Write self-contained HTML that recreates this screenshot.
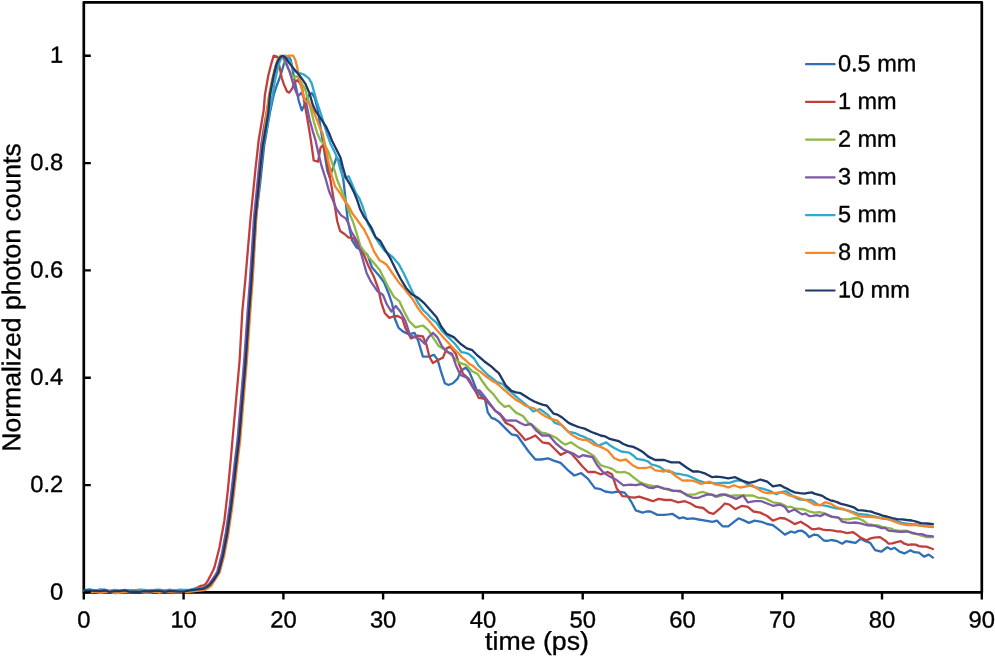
<!DOCTYPE html><html><head><meta charset="utf-8"><title>chart</title><style>html,body{margin:0;padding:0;background:#fff}svg{display:block}text{font-family:"Liberation Sans",Arial,sans-serif;fill:#000;stroke:#000;stroke-width:0.35px}</style></head><body>
<svg width="995" height="656" viewBox="0 0 995 656">
<rect width="995" height="656" fill="#fff"/>
<rect x="83.8" y="2.3" width="898.0" height="590.1" fill="none" stroke="#000" stroke-width="2.7" stroke-linejoin="round"/>
<path d="M84.8,591.3 L89.8,589.5 L94.8,591.0 L99.8,589.7 L104.8,589.7 L109.7,591.0 L114.7,590.7 L119.7,591.2 L124.7,590.0 L129.7,590.6 L134.7,590.7 L139.7,590.0 L144.7,591.2 L149.7,590.4 L154.7,591.0 L159.6,590.1 L164.6,590.8 L169.6,591.2 L174.6,590.4 L179.6,590.3 L184.6,590.8 L190.6,590.4 L196.2,589.6 L204.2,588.7 L207.4,587.0 L210.6,584.6 L213.9,580.5 L217.1,575.6 L219.2,572.2 L223.8,554.6 L227.9,532.7 L231.8,505.9 L234.7,481.5 L237.2,459.5 L239.6,440.0 L246.3,360.5 L249.7,311.7 L252.1,280.0 L256.1,217.6 L260.4,181.0 L264.3,144.4 L265.2,140.0 L269.8,113.2 L273.7,95.0 L276.0,87.7 L279.4,78.5 L281.7,71.7 L283.6,64.8 L285.4,60.2 L288.6,56.4 L290.8,60.2 L292.3,67.9 L293.9,77.0 L295.7,85.7 L298.8,101.0 L301.8,110.4 L304.1,105.5 L307.9,96.4 L311.7,93.0 L314.8,97.9 L317.8,110.1 L320.6,128.0 L322.9,142.2 L325.2,157.4 L327.4,171.2 L329.7,177.3 L332.8,168.1 L336.6,157.4 L338.9,160.5 L341.2,169.6 L343.4,180.3 L345.0,194.0 L346.5,209.3 L348.0,221.5 L349.2,227.3 L351.9,240.1 L356.5,247.4 L362.0,250.2 L367.5,254.8 L372.1,267.6 L378.5,274.9 L384.0,282.2 L388.5,293.2 L392.2,304.1 L394.9,318.8 L398.6,327.9 L403.2,331.6 L408.7,334.3 L414.6,332.9 L418.3,341.1 L422.9,356.6 L429.3,356.6 L433.8,354.8 L437.5,359.4 L441.2,372.2 L444.8,383.2 L448.5,385.0 L453.0,383.2 L457.6,378.6 L461.3,370.4 L465.9,367.6 L469.5,372.2 L473.2,381.3 L476.8,390.5 L480.5,395.1 L485.1,399.6 L487.8,412.4 L491.5,417.9 L495.2,419.2 L498.8,421.6 L505.7,428.6 L511.4,434.3 L517.2,435.5 L522.9,443.5 L528.6,451.5 L535.4,459.5 L541.2,459.5 L548.0,458.3 L553.7,460.6 L560.6,462.9 L567.5,469.8 L574.3,475.5 L581.2,473.2 L588.0,478.9 L594.9,488.1 L600.6,489.2 L605.2,491.5 L612.0,492.6 L617.8,491.5 L624.6,492.6 L629.2,498.4 L632.5,504.0 L635.7,510.3 L642.6,512.6 L646.5,511.5 L650.6,511.5 L657.4,514.9 L664.3,514.9 L668.6,514.4 L672.3,513.8 L679.2,518.3 L683.0,517.4 L687.2,518.8 L692.9,518.3 L698.6,519.5 L705.5,520.6 L712.3,521.8 L716.9,520.6 L722.6,526.3 L728.3,526.3 L734.0,521.8 L738.6,518.3 L744.3,520.6 L748.9,522.9 L754.6,520.6 L761.5,521.8 L767.2,524.0 L772.9,525.2 L780.0,530.7 L784.9,534.6 L791.0,531.5 L794.6,532.7 L798.4,530.9 L802.0,530.7 L805.8,533.3 L809.3,537.1 L814.1,534.6 L817.8,535.1 L823.9,540.5 L827.2,540.9 L831.2,540.0 L837.3,541.2 L842.2,543.7 L845.9,541.2 L850.7,542.0 L855.6,542.9 L860.5,538.8 L865.4,541.2 L870.2,542.9 L875.1,550.2 L881.2,551.7 L887.3,547.3 L891.0,549.3 L894.6,547.8 L899.5,551.7 L904.4,553.4 L910.5,550.2 L914.1,552.2 L919.0,552.7 L923.9,556.6 L928.8,554.6 L932.9,557.6" fill="none" stroke="#2f6fb8" stroke-width="2.3" stroke-linejoin="round" stroke-linecap="round"/>
<path d="M84.8,591.2 L89.8,591.2 L94.8,591.1 L99.8,590.5 L104.8,591.3 L109.7,591.4 L114.7,591.2 L119.7,591.2 L124.7,590.8 L129.7,590.2 L134.7,590.8 L139.7,590.8 L144.7,591.1 L149.7,591.3 L154.7,592.2 L159.6,591.6 L164.6,591.2 L169.6,590.5 L174.6,591.2 L179.6,591.8 L184.6,592.2 L190.8,589.8 L195.6,588.4 L200.4,585.9 L203.6,585.5 L206.0,583.7 L208.4,579.6 L210.9,574.8 L213.3,570.0 L214.6,566.8 L219.5,547.3 L224.4,520.5 L228.0,488.8 L231.2,454.6 L232.5,440.0 L239.6,360.5 L242.3,311.7 L245.3,280.0 L250.6,217.6 L255.5,168.8 L258.7,140.0 L263.7,110.1 L264.9,95.0 L268.3,75.5 L271.4,63.3 L273.7,55.6 L277.5,56.8 L279.4,66.3 L281.7,77.8 L284.0,84.6 L287.0,91.5 L289.3,92.6 L292.3,88.4 L294.6,82.3 L297.5,80.2 L300.2,83.6 L302.3,89.2 L304.5,103.0 L306.4,113.2 L309.5,131.5 L311.4,143.7 L313.7,160.5 L318.0,161.7 L319.1,155.9 L320.6,147.5 L322.9,145.2 L325.2,151.3 L328.2,168.1 L330.5,180.3 L332.8,194.0 L335.1,207.7 L337.3,221.5 L340.1,231.0 L344.5,234.0 L348.3,237.4 L353.8,238.3 L358.4,247.4 L363.8,254.8 L368.4,265.7 L373.9,276.7 L378.5,289.5 L381.2,302.3 L384.9,313.3 L389.4,317.9 L393.2,316.5 L397.7,316.0 L402.3,318.5 L405.5,328.3 L411.0,338.4 L417.4,335.6 L422.9,336.5 L426.5,344.8 L429.3,356.6 L432.9,363.0 L437.5,360.3 L443.0,357.6 L446.6,348.4 L450.3,346.6 L455.8,353.9 L459.4,364.9 L463.1,374.0 L468.6,378.6 L473.2,386.8 L478.7,397.8 L484.1,398.7 L489.6,404.2 L495.1,410.6 L500.6,415.2 L505.7,422.9 L512.6,426.3 L519.4,433.2 L525.2,440.0 L530.9,437.7 L535.4,435.5 L542.3,442.3 L549.2,443.5 L556.0,450.3 L560.6,454.9 L567.5,451.5 L571.4,453.7 L575.5,458.3 L582.3,466.3 L588.0,472.0 L594.9,472.0 L600.6,474.3 L607.5,472.0 L612.0,474.3 L616.6,488.1 L622.3,496.1 L626.6,496.3 L630.3,497.2 L634.4,497.6 L639.1,496.6 L646.0,498.9 L652.9,501.2 L658.6,498.9 L665.4,500.0 L671.2,500.0 L678.0,502.3 L684.9,501.2 L690.6,503.5 L696.3,506.9 L703.2,508.0 L708.9,512.6 L713.5,513.8 L719.2,509.2 L724.9,503.5 L729.5,504.6 L735.2,509.2 L742.1,505.8 L747.8,506.9 L753.5,511.5 L760.3,512.6 L767.2,516.0 L772.9,520.6 L780.0,518.0 L784.9,518.5 L791.0,521.7 L794.6,524.1 L800.7,521.7 L806.8,525.4 L811.7,529.0 L815.3,529.1 L819.0,528.3 L822.9,529.6 L826.3,530.2 L829.7,530.1 L833.7,530.7 L837.1,531.4 L841.0,531.5 L847.1,533.2 L853.2,532.2 L857.0,534.9 L860.5,537.6 L866.6,540.5 L870.0,538.6 L873.9,537.6 L880.0,537.1 L886.1,541.2 L888.5,543.7 L892.2,543.4 L895.9,542.4 L900.7,541.2 L904.4,543.7 L908.2,544.9 L911.7,544.4 L915.7,544.6 L919.0,546.1 L922.8,546.5 L926.3,546.6 L932.9,549.0" fill="none" stroke="#c03f3c" stroke-width="2.3" stroke-linejoin="round" stroke-linecap="round"/>
<path d="M84.8,590.5 L89.8,591.1 L94.8,591.6 L99.8,591.8 L104.8,590.9 L109.7,591.8 L114.7,591.4 L119.7,591.1 L124.7,591.0 L129.7,590.9 L134.7,590.6 L139.7,591.1 L144.7,590.7 L149.7,591.3 L154.7,591.5 L159.6,591.0 L164.6,591.4 L169.6,590.4 L174.6,591.6 L179.6,590.8 L184.6,590.3 L189.5,590.4 L195.1,589.6 L203.1,588.7 L206.3,587.0 L209.5,584.6 L212.8,580.5 L216.0,575.6 L218.1,572.2 L222.7,554.6 L226.8,532.7 L230.7,505.9 L233.6,481.5 L236.1,459.5 L238.5,440.0 L245.2,360.5 L248.6,311.7 L251.0,280.0 L255.0,217.6 L258.6,181.0 L262.3,144.4 L264.5,130.0 L268.0,108.0 L271.5,87.0 L275.0,69.0 L278.0,59.0 L280.5,55.8 L283.2,58.0 L285.5,63.3 L288.5,69.4 L291.6,74.7 L293.9,77.8 L296.2,76.3 L298.4,77.8 L302.3,84.6 L305.0,88.8 L309.5,104.0 L314.0,122.3 L317.5,134.0 L320.6,140.7 L324.4,144.5 L328.2,151.3 L331.3,160.5 L334.3,169.6 L337.3,180.3 L341.2,189.5 L344.2,197.1 L347.3,206.2 L350.3,215.4 L353.1,222.0 L356.5,232.8 L360.2,245.6 L366.6,254.8 L373.0,262.1 L379.4,269.4 L384.0,278.5 L388.5,287.7 L394.0,296.8 L399.5,301.4 L404.1,311.5 L409.1,321.0 L415.5,327.4 L419.3,326.3 L422.9,325.5 L428.4,330.1 L432.9,337.4 L438.4,345.7 L442.4,348.2 L445.7,350.2 L452.1,355.7 L458.5,362.1 L462.1,363.6 L465.9,364.9 L472.3,371.3 L477.7,374.0 L482.3,381.3 L487.8,388.7 L493.3,394.1 L498.8,401.5 L504.6,406.9 L509.1,405.7 L516.0,412.6 L522.9,416.0 L528.6,422.9 L532.6,425.2 L536.6,428.6 L541.4,432.7 L545.7,433.2 L550.8,435.3 L556.0,437.7 L560.7,441.7 L565.2,444.6 L570.9,442.3 L577.7,446.9 L582.6,449.4 L586.9,451.5 L593.8,456.0 L600.6,465.2 L604.4,466.5 L608.6,467.5 L612.2,468.9 L616.6,472.0 L620.5,472.3 L624.6,472.0 L628.8,473.5 L632.6,476.6 L639.1,481.7 L643.5,483.6 L648.3,485.2 L652.9,486.0 L657.4,486.3 L664.3,488.6 L668.4,489.8 L672.3,490.9 L676.2,490.9 L680.3,492.0 L687.2,494.3 L691.6,494.7 L695.2,494.3 L699.0,492.7 L703.2,492.0 L710.0,494.3 L714.1,495.2 L718.0,496.6 L722.1,495.5 L726.0,494.3 L730.0,495.8 L734.0,495.5 L738.4,495.5 L742.1,495.5 L748.9,495.5 L753.5,495.7 L758.1,497.8 L762.5,497.9 L766.1,498.9 L772.9,502.3 L780.0,503.4 L783.8,505.1 L787.3,507.1 L790.7,506.7 L794.6,508.3 L799.5,508.9 L804.4,509.5 L808.9,511.3 L814.1,512.7 L819.4,512.2 L823.9,513.2 L827.8,515.1 L831.2,516.8 L835.6,517.0 L839.8,518.5 L843.8,519.4 L848.3,519.3 L851.7,518.7 L855.6,518.0 L859.0,518.7 L862.9,520.5 L867.8,524.1 L872.5,524.9 L877.6,525.4 L882.3,526.8 L887.3,527.8 L891.1,528.6 L894.6,530.2 L899.6,530.9 L904.4,530.7 L907.8,530.8 L911.7,533.2 L916.4,534.0 L921.5,535.6 L926.6,537.2 L932.9,537.1" fill="none" stroke="#8cb843" stroke-width="2.3" stroke-linejoin="round" stroke-linecap="round"/>
<path d="M84.8,591.4 L89.8,591.0 L94.8,590.5 L99.8,590.0 L104.8,590.4 L109.7,591.3 L114.7,590.7 L119.7,591.1 L124.7,591.5 L129.7,591.1 L134.7,590.8 L139.7,590.6 L144.7,591.0 L149.7,590.7 L154.7,590.5 L159.6,591.0 L164.6,590.5 L169.6,591.6 L174.6,590.3 L179.6,590.9 L184.6,592.2 L188.5,590.4 L194.1,589.6 L202.1,588.7 L205.3,587.0 L208.5,584.6 L211.8,580.5 L215.0,575.6 L217.1,572.2 L221.7,554.6 L225.8,532.7 L229.7,505.9 L232.6,481.5 L235.1,459.5 L237.5,440.0 L244.2,360.5 L247.6,311.7 L250.0,280.0 L254.0,217.6 L257.6,181.0 L261.3,144.4 L263.5,130.0 L267.0,110.0 L270.5,90.0 L274.0,74.0 L277.5,63.5 L280.5,57.2 L283.5,57.0 L287.0,64.8 L289.3,70.9 L291.6,78.5 L293.9,86.2 L296.2,92.3 L298.2,96.2 L301.1,93.0 L303.5,96.0 L306.4,104.0 L309.5,119.3 L313.0,132.0 L315.2,139.1 L318.3,152.9 L321.3,165.1 L325.2,177.3 L329.0,191.0 L332.8,200.1 L336.6,209.3 L341.2,215.4 L345.7,218.4 L348.3,223.0 L351.0,231.0 L357.4,241.9 L362.0,256.6 L366.6,273.0 L371.2,282.2 L377.6,291.3 L383.0,295.0 L386.7,304.1 L391.3,311.5 L395.8,306.0 L400.4,311.8 L405.5,321.0 L410.1,335.6 L415.5,337.4 L420.1,339.3 L424.7,343.8 L428.4,337.4 L432.9,332.9 L437.5,337.4 L442.1,346.6 L447.6,352.1 L452.1,353.9 L455.8,364.9 L460.4,374.9 L466.8,377.7 L471.3,385.0 L475.0,390.5 L479.6,390.5 L484.1,396.0 L489.6,403.3 L495.1,410.6 L500.0,413.7 L505.7,420.6 L511.0,420.5 L516.0,420.6 L520.3,423.0 L525.2,425.2 L530.9,424.0 L536.6,430.9 L542.3,435.5 L549.2,435.5 L556.0,443.5 L562.9,449.2 L567.3,451.3 L570.9,452.6 L574.6,454.4 L578.9,457.2 L582.7,455.2 L586.9,456.0 L592.6,457.2 L597.2,465.2 L602.9,472.0 L609.8,476.6 L616.6,480.1 L623.5,485.3 L630.3,484.6 L635.7,485.2 L641.4,484.0 L648.3,487.5 L652.7,488.1 L657.4,486.3 L664.3,488.6 L669.0,489.2 L673.4,490.9 L680.3,490.9 L687.2,495.5 L692.9,497.8 L698.6,497.8 L703.4,495.8 L707.7,494.3 L712.0,494.7 L715.8,496.6 L719.8,494.7 L723.8,494.3 L730.6,496.6 L736.3,498.9 L743.2,495.5 L747.8,502.3 L754.6,501.2 L761.5,501.2 L767.2,503.5 L772.9,505.8 L780.0,504.6 L784.9,507.1 L788.5,512.0 L794.6,509.5 L798.0,511.7 L802.0,514.4 L805.5,513.5 L809.3,516.1 L813.0,515.9 L816.6,515.1 L820.2,516.1 L825.1,513.7 L828.6,515.4 L832.4,516.8 L838.5,517.6 L842.2,521.7 L846.9,522.6 L850.7,522.9 L855.2,522.5 L860.5,523.4 L864.3,524.5 L867.8,525.4 L873.1,525.5 L877.6,526.6 L881.6,528.1 L884.9,527.8 L888.5,530.7 L893.2,531.1 L897.1,531.5 L902.3,531.9 L906.8,531.5 L911.6,532.6 L916.6,533.9 L921.8,534.1 L926.3,535.6 L932.9,536.3" fill="none" stroke="#7c58a6" stroke-width="2.3" stroke-linejoin="round" stroke-linecap="round"/>
<path d="M84.8,590.0 L89.8,589.5 L94.8,590.3 L99.8,589.8 L104.8,590.5 L109.7,590.9 L114.7,590.0 L119.7,590.4 L124.7,590.5 L129.7,590.2 L134.7,590.6 L139.7,589.7 L144.7,589.8 L149.7,590.9 L154.7,590.0 L159.6,589.7 L164.6,590.6 L169.6,589.7 L174.6,590.6 L179.6,589.6 L184.6,590.0 L190.3,589.6 L195.9,588.8 L203.9,587.9 L207.1,587.0 L210.3,584.6 L213.6,580.5 L216.8,575.6 L218.9,572.2 L223.5,554.6 L227.6,532.7 L231.5,505.9 L234.4,481.5 L236.9,459.5 L239.3,440.0 L246.0,360.5 L249.4,311.7 L251.8,280.0 L255.8,217.6 L259.4,181.0 L263.1,144.4 L266.5,130.0 L269.5,112.0 L272.5,95.0 L274.8,81.6 L277.1,70.9 L279.4,62.5 L281.7,57.6 L285.1,55.6 L288.1,56.8 L291.0,63.0 L293.4,70.5 L298.8,72.8 L303.4,74.3 L308.7,78.1 L311.7,83.4 L314.0,91.8 L317.1,102.5 L321.6,116.2 L326.7,133.0 L330.5,143.7 L335.1,152.9 L338.1,160.5 L340.4,169.6 L343.4,177.3 L348.8,176.5 L351.8,183.4 L355.6,192.5 L359.5,198.6 L362.5,206.2 L365.5,215.4 L367.6,223.0 L373.9,234.6 L379.4,243.8 L384.9,251.1 L388.7,253.9 L392.2,256.6 L398.6,263.9 L404.1,274.0 L408.7,284.0 L413.2,293.2 L417.8,302.3 L423.5,310.5 L427.2,313.8 L431.1,318.2 L436.6,322.8 L442.1,331.0 L448.5,337.4 L454.9,343.8 L461.3,352.1 L464.7,352.7 L468.6,353.9 L474.1,358.5 L478.7,365.8 L484.1,371.3 L488.1,375.2 L491.5,377.7 L497.0,382.2 L502.4,383.8 L506.9,388.6 L513.7,394.3 L517.8,398.2 L521.7,401.2 L528.6,406.9 L533.2,411.5 L540.0,409.2 L544.3,412.3 L548.0,414.9 L554.9,422.9 L561.7,425.2 L568.6,432.0 L575.5,433.2 L579.7,435.3 L583.5,436.6 L587.3,438.5 L591.5,440.0 L598.3,445.8 L602.1,444.1 L606.3,442.3 L610.6,445.8 L614.3,448.0 L621.2,451.5 L625.4,452.1 L629.2,452.6 L632.9,455.2 L636.9,458.9 L643.7,460.0 L647.9,461.4 L651.7,464.6 L655.3,465.4 L659.7,466.9 L663.5,469.7 L667.7,471.5 L671.8,471.9 L675.7,473.7 L679.8,474.0 L683.7,474.9 L687.9,475.6 L691.7,477.2 L698.6,480.6 L705.5,482.9 L712.3,482.9 L716.8,483.3 L721.5,482.9 L725.5,482.7 L729.5,482.9 L736.3,480.6 L742.1,480.6 L748.9,485.2 L755.8,487.5 L762.6,488.6 L769.5,490.9 L776.3,494.3 L780.0,492.4 L786.1,491.2 L790.2,494.1 L794.6,497.3 L798.9,499.3 L803.2,499.8 L806.6,499.8 L810.5,499.8 L814.0,501.8 L817.8,504.6 L821.8,505.1 L826.3,505.9 L831.2,507.2 L836.1,508.3 L840.2,508.8 L844.6,509.5 L848.9,510.8 L853.2,512.0 L858.2,513.8 L862.9,514.4 L868.2,515.0 L872.7,516.1 L877.3,517.2 L882.4,518.5 L886.9,519.1 L892.2,520.0 L897.2,521.1 L902.0,522.9 L907.1,523.7 L911.7,524.1 L916.2,524.4 L921.5,525.9 L926.7,526.3 L932.9,527.1" fill="none" stroke="#2fa9c9" stroke-width="2.3" stroke-linejoin="round" stroke-linecap="round"/>
<path d="M84.8,591.6 L89.8,592.3 L94.8,591.3 L99.8,592.9 L104.8,592.0 L109.7,591.5 L114.7,593.3 L119.7,592.7 L124.7,592.1 L129.7,592.2 L134.7,591.7 L139.7,591.7 L144.7,592.7 L149.7,592.6 L154.7,591.4 L159.6,592.7 L164.6,591.5 L169.6,592.2 L174.6,592.4 L179.6,592.4 L184.6,592.0 L191.2,591.7 L196.8,590.9 L204.8,590.0 L208.0,588.3 L211.2,585.9 L214.5,580.5 L217.7,575.6 L219.8,572.2 L224.4,554.6 L228.5,532.7 L232.4,505.9 L235.3,481.5 L237.8,459.5 L240.2,440.0 L246.9,360.5 L250.3,311.7 L252.7,280.0 L256.3,217.6 L259.4,181.0 L262.5,144.4 L264.0,134.5 L269.0,95.0 L272.2,79.3 L275.0,67.9 L277.5,60.2 L280.0,57.2 L284.0,56.8 L288.5,55.6 L293.1,55.6 L295.4,60.2 L297.7,69.4 L300.0,81.6 L302.3,90.7 L304.9,100.2 L308.7,103.3 L311.7,107.1 L315.5,116.2 L320.1,128.4 L322.5,133.0 L325.2,145.2 L328.2,160.5 L331.3,174.2 L335.1,186.4 L339.6,192.5 L344.2,200.1 L348.8,206.2 L352.6,213.8 L357.6,220.5 L363.8,229.1 L369.3,240.1 L373.9,251.1 L379.4,260.2 L383.1,262.3 L386.7,264.8 L392.2,273.0 L398.6,282.2 L405.0,289.5 L408.4,294.0 L412.3,298.7 L417.8,307.8 L422.0,313.5 L425.6,317.3 L429.0,320.8 L432.9,325.5 L436.5,329.7 L440.2,333.8 L443.9,338.1 L447.6,342.0 L451.5,346.2 L454.9,350.2 L458.7,353.5 L462.2,357.6 L465.9,360.5 L469.5,364.0 L473.2,366.1 L476.8,369.4 L480.5,371.9 L484.1,374.9 L487.5,377.5 L491.5,380.4 L495.4,382.4 L498.8,385.0 L503.0,388.8 L508.0,393.2 L511.8,396.3 L516.0,400.0 L520.9,402.5 L525.2,405.7 L528.9,407.0 L533.2,408.0 L537.4,410.6 L541.2,413.7 L545.4,416.3 L549.2,418.3 L553.1,419.3 L557.2,420.6 L564.0,427.5 L570.9,434.3 L574.6,436.4 L578.9,438.9 L582.8,439.8 L586.9,440.0 L593.8,444.6 L600.6,446.9 L607.5,450.3 L614.3,458.3 L620.1,460.6 L625.8,459.5 L632.6,465.2 L638.0,468.0 L641.8,468.1 L646.0,468.0 L650.6,466.9 L655.2,470.3 L659.5,470.8 L663.2,471.5 L668.9,470.3 L675.7,476.0 L682.6,480.6 L687.5,480.3 L691.7,480.6 L695.9,481.7 L700.9,484.0 L705.3,482.9 L710.0,481.7 L715.0,484.4 L719.2,485.2 L724.1,485.9 L728.3,487.5 L734.0,485.2 L739.8,487.5 L746.6,486.3 L752.3,485.2 L759.2,489.7 L762.9,492.0 L767.2,493.2 L774.1,493.2 L780.0,492.4 L785.0,493.5 L789.8,495.6 L794.9,496.6 L799.5,498.0 L803.9,499.7 L808.0,501.0 L814.1,504.6 L820.2,505.4 L825.1,502.2 L831.2,503.9 L834.8,506.2 L838.5,507.8 L842.1,508.6 L845.9,510.2 L849.4,511.5 L853.2,513.2 L859.3,516.1 L863.7,516.7 L867.8,516.8 L872.3,517.2 L877.6,517.6 L882.4,518.5 L887.3,518.5 L890.8,520.1 L894.6,521.7 L898.6,523.1 L902.0,524.1 L906.9,525.2 L911.7,524.9 L916.2,525.2 L921.5,525.9 L927.0,526.0 L932.9,526.6" fill="none" stroke="#f5872b" stroke-width="2.3" stroke-linejoin="round" stroke-linecap="round"/>
<path d="M84.8,590.4 L89.8,590.7 L94.8,590.9 L99.8,591.1 L104.8,590.5 L109.7,591.8 L114.7,591.2 L119.7,591.1 L124.7,590.4 L129.7,591.9 L134.7,591.6 L139.7,591.9 L144.7,591.1 L149.7,591.5 L154.7,590.8 L159.6,590.8 L164.6,591.9 L169.6,590.9 L174.6,591.3 L179.6,591.6 L184.6,591.4 L190.0,590.4 L195.6,589.6 L203.6,588.7 L206.8,587.0 L210.0,584.6 L213.3,580.5 L216.5,575.6 L218.6,572.2 L223.2,554.6 L227.3,532.7 L231.2,505.9 L234.1,481.5 L236.6,459.5 L239.0,440.0 L245.7,360.5 L249.1,311.7 L251.5,280.0 L255.5,217.6 L259.1,181.0 L262.8,144.4 L263.7,140.0 L268.3,113.2 L269.9,95.0 L273.3,77.0 L276.3,64.8 L279.4,58.0 L282.4,55.8 L285.5,57.6 L288.5,62.1 L293.1,67.9 L297.7,73.2 L302.3,79.3 L305.6,84.2 L309.5,93.4 L312.5,104.0 L315.5,110.9 L320.1,117.7 L326.2,126.9 L329.0,133.0 L332.0,140.7 L336.6,149.8 L340.4,157.4 L342.7,166.6 L345.7,177.3 L350.3,184.9 L354.1,192.5 L357.2,200.1 L360.2,209.3 L364.0,216.9 L367.5,221.5 L371.2,227.3 L375.7,237.4 L380.3,241.0 L384.9,249.3 L390.4,258.4 L395.8,269.4 L400.4,278.5 L405.9,287.7 L411.4,294.1 L417.8,297.7 L424.2,303.2 L430.2,310.0 L436.6,317.3 L441.2,326.5 L446.6,333.8 L450.0,335.4 L454.0,337.4 L460.4,343.8 L466.8,348.4 L472.3,350.2 L477.7,355.7 L484.1,361.2 L487.9,364.0 L491.5,366.7 L495.2,370.1 L498.8,373.1 L505.7,385.2 L511.4,390.9 L516.0,392.4 L520.6,393.2 L525.0,396.0 L529.7,398.9 L534.3,401.5 L538.9,403.4 L543.2,404.8 L546.9,405.7 L553.7,413.7 L557.3,414.6 L561.7,417.2 L568.6,422.9 L573.0,424.9 L576.6,426.3 L580.2,427.5 L584.6,428.6 L591.5,432.0 L596.5,433.8 L600.6,435.5 L604.9,436.3 L609.8,438.9 L614.6,440.1 L618.9,441.2 L623.3,444.0 L628.1,445.8 L633.3,446.9 L639.1,449.7 L643.3,452.3 L648.3,456.6 L655.2,460.0 L660.1,459.8 L664.3,460.0 L671.2,462.3 L675.0,462.3 L679.2,462.3 L683.4,465.3 L687.2,468.0 L692.9,471.5 L698.6,471.5 L705.5,473.7 L712.3,477.2 L716.6,476.7 L721.5,477.2 L728.3,478.3 L735.2,477.2 L742.1,480.6 L748.9,482.9 L754.6,481.7 L760.3,479.5 L767.2,481.7 L772.9,486.3 L780.0,485.1 L783.5,487.1 L787.3,488.8 L791.2,490.9 L794.6,492.4 L799.9,493.2 L804.4,493.7 L808.1,492.9 L811.7,492.4 L815.1,493.9 L819.0,494.9 L822.4,495.9 L826.3,498.5 L830.3,500.3 L833.7,501.0 L837.0,502.1 L841.0,503.9 L845.6,504.9 L850.7,506.3 L854.5,507.7 L858.0,510.2 L862.5,510.4 L867.8,511.2 L871.4,511.6 L875.1,513.2 L878.7,514.2 L882.4,515.6 L886.8,516.5 L892.2,518.0 L897.1,519.2 L902.0,519.3 L907.1,520.0 L911.7,520.5 L916.2,521.6 L921.5,523.4 L927.4,523.5 L932.9,524.1" fill="none" stroke="#1d3969" stroke-width="2.3" stroke-linejoin="round" stroke-linecap="round"/>
<path d="M83.8,592.4 V599.6 M183.6,592.4 V599.6 M283.4,592.4 V599.6 M383.1,592.4 V599.6 M482.9,592.4 V599.6 M582.7,592.4 V599.6 M682.5,592.4 V599.6 M782.2,592.4 V599.6 M882.0,592.4 V599.6 M981.8,592.4 V599.6 M83.8,592.4 H90.8 M83.8,485.1 H90.8 M83.8,377.8 H90.8 M83.8,270.4 H90.8 M83.8,163.1 H90.8 M83.8,55.8 H90.8" stroke="#000" stroke-width="2.4" fill="none"/>
<text transform="translate(83.8,627.40) rotate(0.03) scale(1.02,1)" font-size="23.3" text-anchor="middle">0</text>
<text transform="translate(183.6,627.40) rotate(0.03) scale(1.02,1)" font-size="23.3" text-anchor="middle">10</text>
<text transform="translate(283.4,627.40) rotate(0.03) scale(1.02,1)" font-size="23.3" text-anchor="middle">20</text>
<text transform="translate(383.1,627.40) rotate(0.03) scale(1.02,1)" font-size="23.3" text-anchor="middle">30</text>
<text transform="translate(482.9,627.40) rotate(0.03) scale(1.02,1)" font-size="23.3" text-anchor="middle">40</text>
<text transform="translate(582.7,627.40) rotate(0.03) scale(1.02,1)" font-size="23.3" text-anchor="middle">50</text>
<text transform="translate(682.5,627.40) rotate(0.03) scale(1.02,1)" font-size="23.3" text-anchor="middle">60</text>
<text transform="translate(782.2,627.40) rotate(0.03) scale(1.02,1)" font-size="23.3" text-anchor="middle">70</text>
<text transform="translate(882.0,627.40) rotate(0.03) scale(1.02,1)" font-size="23.3" text-anchor="middle">80</text>
<text transform="translate(981.8,627.40) rotate(0.03) scale(1.02,1)" font-size="23.3" text-anchor="middle">90</text>
<text transform="translate(63.2,599.40) rotate(0.03) scale(1.02,1)" font-size="23.3" text-anchor="end">0</text>
<text transform="translate(63.2,492.08) rotate(0.03) scale(1.02,1)" font-size="23.3" text-anchor="end">0.2</text>
<text transform="translate(63.2,384.76) rotate(0.03) scale(1.02,1)" font-size="23.3" text-anchor="end">0.4</text>
<text transform="translate(63.2,277.44) rotate(0.03) scale(1.02,1)" font-size="23.3" text-anchor="end">0.6</text>
<text transform="translate(63.2,170.12) rotate(0.03) scale(1.02,1)" font-size="23.3" text-anchor="end">0.8</text>
<text transform="translate(63.2,62.80) rotate(0.03) scale(1.02,1)" font-size="23.3" text-anchor="end">1</text>
<text transform="translate(537.0,649.80) rotate(0.03) scale(1.035,1)" font-size="25.8" text-anchor="middle">time (ps)</text>
<text transform="translate(20.3,297.5) rotate(-89.97) scale(1.03,1)" font-size="25.8" text-anchor="middle">Normalized photon counts</text>
<path d="M806,64.2 H834.6" stroke="#2f6fb8" stroke-width="2.2" stroke-linecap="round"/>
<text transform="translate(837.9,71.20) rotate(0.03) scale(1.01,1)" font-size="23.3" text-anchor="start">0.5 mm</text>
<path d="M806,101.9 H834.6" stroke="#c03f3c" stroke-width="2.2" stroke-linecap="round"/>
<text transform="translate(837.9,108.92) rotate(0.03) scale(1.01,1)" font-size="23.3" text-anchor="start">1 mm</text>
<path d="M806,139.6 H834.6" stroke="#8cb843" stroke-width="2.2" stroke-linecap="round"/>
<text transform="translate(837.9,146.64) rotate(0.03) scale(1.01,1)" font-size="23.3" text-anchor="start">2 mm</text>
<path d="M806,177.4 H834.6" stroke="#7c58a6" stroke-width="2.2" stroke-linecap="round"/>
<text transform="translate(837.9,184.36) rotate(0.03) scale(1.01,1)" font-size="23.3" text-anchor="start">3 mm</text>
<path d="M806,215.1 H834.6" stroke="#2fa9c9" stroke-width="2.2" stroke-linecap="round"/>
<text transform="translate(837.9,222.08) rotate(0.03) scale(1.01,1)" font-size="23.3" text-anchor="start">5 mm</text>
<path d="M806,252.8 H834.6" stroke="#f5872b" stroke-width="2.2" stroke-linecap="round"/>
<text transform="translate(837.9,259.80) rotate(0.03) scale(1.01,1)" font-size="23.3" text-anchor="start">8 mm</text>
<path d="M806,290.5 H834.6" stroke="#1d3969" stroke-width="2.2" stroke-linecap="round"/>
<text transform="translate(837.9,297.52) rotate(0.03) scale(1.01,1)" font-size="23.3" text-anchor="start">10 mm</text>
</svg></body></html>
